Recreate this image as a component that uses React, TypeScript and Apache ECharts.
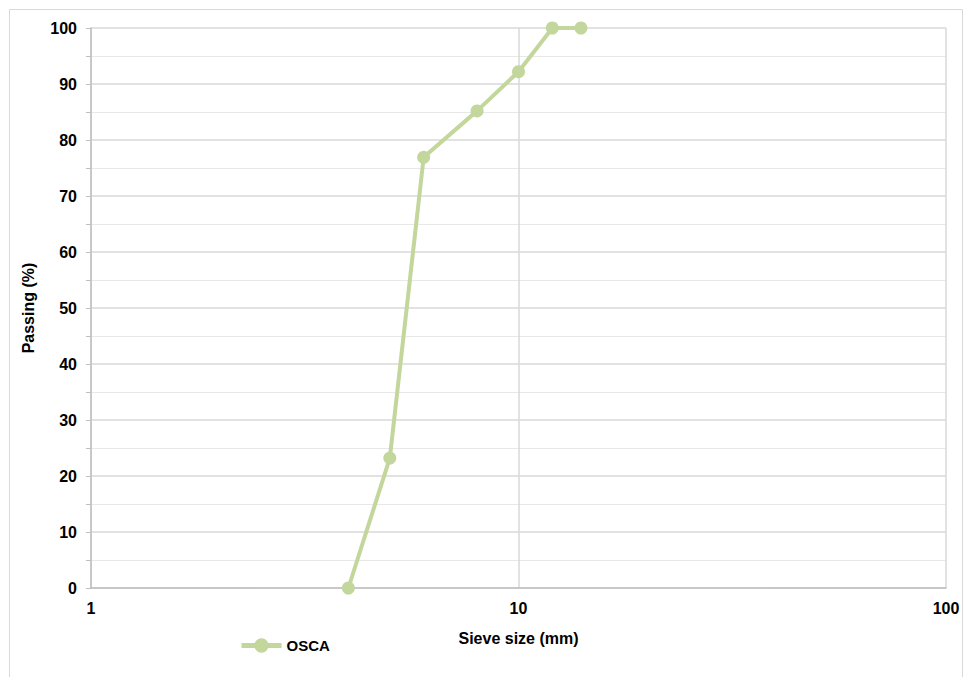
import React, { useEffect, useRef } from "react";
import * as echarts from "echarts";

const sieveSizes = [4, 5, 6, 8, 10, 12, 14];
const passing = [0, 23.2, 76.9, 85.2, 92.2, 100, 100];
const seriesName = "OSCA";

export default function App() {
  const ref = useRef<HTMLDivElement>(null);
  useEffect(() => {
    if (!ref.current) return;
    const chart = echarts.init(ref.current, null, { renderer: "svg" });
    const font = "'Liberation Sans', Arial, sans-serif";
    chart.setOption({
      animation: false,
      backgroundColor: "#ffffff",
      textStyle: { fontFamily: font },
      graphic: [
        {
          type: "rect",
          shape: { x: 9.5, y: 9.5, width: 953, height: 680 },
          style: { fill: "none", stroke: "#d9d9d9", lineWidth: 1 },
          silent: true,
        },
      ],
      grid: { left: 91, right: 25, top: 28, bottom: 89 },
      legend: {
        show: true,
        left: 234,
        top: 633,
        itemWidth: 40,
        itemHeight: 18,
        itemGap: 4,
        lineStyle: { width: 5 },
        textStyle: { fontFamily: font, fontSize: 15, fontWeight: "bold", color: "#000" },
        data: [{ name: seriesName }],
      },
      xAxis: {
        type: "log",
        logBase: 10,
        min: 1,
        max: 100,
        name: "Sieve size (mm)",
        nameLocation: "middle",
        nameGap: 42,
        nameTextStyle: { fontFamily: font, fontSize: 16, fontWeight: "bold", color: "#000" },
        axisLine: { show: true, lineStyle: { color: "#bfbfbf", width: 1.5 } },
        axisTick: { show: false },
        axisLabel: { fontFamily: font, fontSize: 16, fontWeight: "bold", color: "#000", margin: 12 },
        splitLine: { show: true, lineStyle: { color: "#d9d9d9", width: 1.5 } },
        minorTick: { show: false },
        minorSplitLine: { show: false },
      },
      yAxis: {
        type: "value",
        min: 0,
        max: 100,
        interval: 10,
        name: "Passing (%)",
        nameLocation: "middle",
        nameGap: 55,
        nameRotate: 90,
        nameTextStyle: { fontFamily: font, fontSize: 16, fontWeight: "bold", color: "#000" },
        axisLine: { show: true, lineStyle: { color: "#bfbfbf", width: 1.5 } },
        axisTick: { show: true, length: 5, lineStyle: { color: "#bfbfbf" } },
        minorTick: { show: true, splitNumber: 2, length: 5, lineStyle: { color: "#bfbfbf" } },
        axisLabel: { fontFamily: font, fontSize: 16, fontWeight: "bold", color: "#000", margin: 14 },
        splitLine: { show: true, lineStyle: { color: "#d9d9d9", width: 1.5 } },
        minorSplitLine: { show: true, lineStyle: { color: "#e8e8e8", width: 1 } },
      },
      series: [
        {
          name: seriesName,
          type: "line",
          data: sieveSizes.map((s, i) => [s, passing[i]]),
          symbol: "circle",
          symbolSize: 13,
          lineStyle: { color: "#c3d69b", width: 4 },
          itemStyle: { color: "#c3d69b" },
        },
      ],
    });
    return () => chart.dispose();
  }, []);
  return (
    <div
      ref={ref}
      style={{ position: "absolute", left: 0, top: 0, width: 971, height: 677 }}
    />
  );
}
